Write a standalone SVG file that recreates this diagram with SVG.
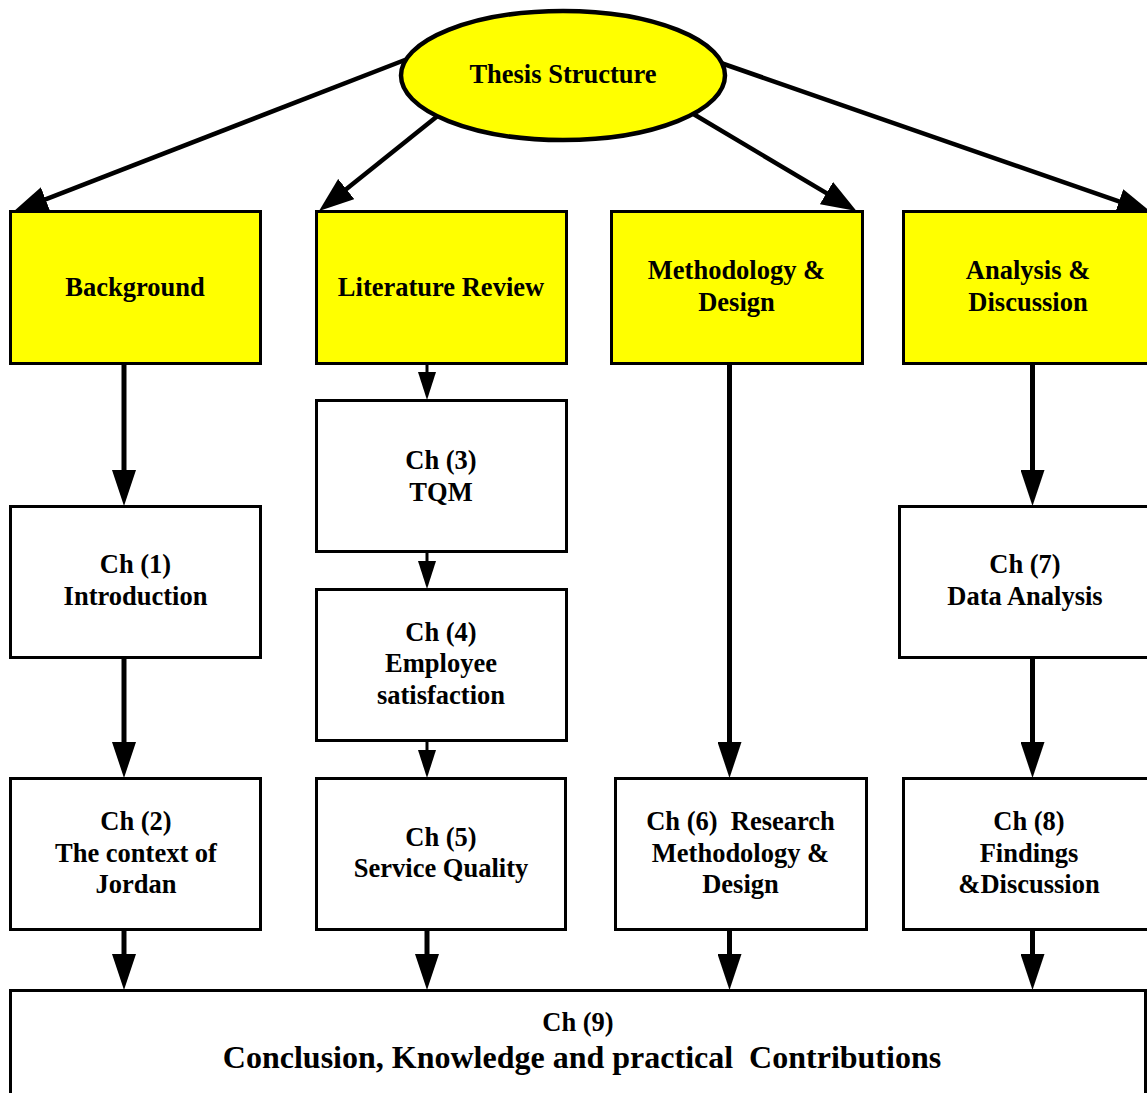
<svg xmlns="http://www.w3.org/2000/svg" width="1147" height="1093" viewBox="0 0 1147 1093">
  <style>
    .bg { fill: #ffffff; }
    .head { fill: #ffff00; stroke: #000; stroke-width: 3; }
    .box { fill: #ffffff; stroke: #000; stroke-width: 3; }
    .oval { fill: #ffff00; stroke: #000; stroke-width: 4.5; }
    text { font-family: "Liberation Serif", "Times New Roman", serif; font-weight: bold; font-size: 26.5px; text-anchor: middle; fill: #000; }
    .big { font-size: 32px; }
    .thick { stroke: #000; stroke-width: 5; fill: none; }
    .thin { stroke: #000; stroke-width: 3; fill: none; }
    .diag { stroke: #000; stroke-width: 4.5; fill: none; }
  </style>
  <defs>
    <marker id="arrowThick" markerUnits="userSpaceOnUse" markerWidth="36" markerHeight="24" refX="26" refY="12" orient="auto">
      <path d="M0,0 L36,12 L0,24 z" fill="#000"/>
    </marker>
    <marker id="arrowThin" markerUnits="userSpaceOnUse" markerWidth="28" markerHeight="18" refX="20" refY="9" orient="auto">
      <path d="M0,0 L28,9 L0,18 z" fill="#000"/>
    </marker>
    <marker id="arrowDiag" markerUnits="userSpaceOnUse" markerWidth="35" markerHeight="26" refX="25" refY="13" orient="auto">
      <path d="M0,0 L35,13 L0,26 z" fill="#000"/>
    </marker>
  </defs>

  <rect class="bg" x="0" y="0" width="1147" height="1093"/>

  <!-- connectors -->
  <g id="connectors">
    <!-- from the root ellipse to the four sections -->
    <line class="diag" x1="410" y1="58" x2="22.3" y2="208.4" marker-end="url(#arrowDiag)"/>
    <line class="diag" x1="440" y1="114" x2="326.8" y2="204.7" marker-end="url(#arrowDiag)"/>
    <line class="diag" x1="690" y1="112" x2="847.9" y2="205.9" marker-end="url(#arrowDiag)"/>
    <line class="diag" x1="718" y1="62" x2="1142.6" y2="209.7" marker-end="url(#arrowDiag)"/>

    <!-- Background column -->
    <line class="thick" x1="124" y1="363" x2="124" y2="496" marker-end="url(#arrowThick)"/>
    <line class="thick" x1="124" y1="657" x2="124" y2="768" marker-end="url(#arrowThick)"/>
    <line class="thick" x1="124" y1="929" x2="124" y2="980" marker-end="url(#arrowThick)"/>

    <!-- Literature Review column -->
    <line class="thin" x1="427" y1="363" x2="427" y2="392" marker-end="url(#arrowThin)"/>
    <line class="thin" x1="427" y1="552" x2="427" y2="581" marker-end="url(#arrowThin)"/>
    <line class="thin" x1="427" y1="740" x2="427" y2="770" marker-end="url(#arrowThin)"/>
    <line class="thick" x1="427" y1="929" x2="427" y2="980" marker-end="url(#arrowThick)"/>

    <!-- Methodology column -->
    <line class="thick" x1="729.5" y1="363" x2="729.5" y2="768" marker-end="url(#arrowThick)"/>
    <line class="thick" x1="729.5" y1="929" x2="729.5" y2="980" marker-end="url(#arrowThick)"/>

    <!-- Analysis column -->
    <line class="thick" x1="1032.5" y1="363" x2="1032.5" y2="496" marker-end="url(#arrowThick)"/>
    <line class="thick" x1="1032.5" y1="657" x2="1032.5" y2="768" marker-end="url(#arrowThick)"/>
    <line class="thick" x1="1032.5" y1="929" x2="1032.5" y2="980" marker-end="url(#arrowThick)"/>
  </g>

  <!-- root -->
  <g id="thesis-structure">
    <ellipse class="oval" cx="563" cy="75.5" rx="162" ry="64.5"/>
    <text x="563" y="83">Thesis Structure</text>
  </g>

  <!-- section headers -->
  <g id="background">
    <rect class="head" x="10.5" y="211.5" width="250" height="152"/>
    <text x="135" y="295.5">Background</text>
  </g>
  <g id="literature-review">
    <rect class="head" x="316.5" y="211.5" width="250" height="152"/>
    <text x="441" y="295.5">Literature Review</text>
  </g>
  <g id="methodology-design">
    <rect class="head" x="611.5" y="211.5" width="251" height="152"/>
    <text x="736.5" y="279">Methodology &amp;</text>
    <text x="736.5" y="311">Design</text>
  </g>
  <g id="analysis-discussion">
    <rect class="head" x="903.5" y="211.5" width="251" height="152"/>
    <text x="1028" y="279">Analysis &amp;</text>
    <text x="1028" y="311">Discussion</text>
  </g>

  <!-- chapters -->
  <g id="ch1">
    <rect class="box" x="10.5" y="506.5" width="250" height="151"/>
    <text x="135.5" y="573">Ch (1)</text>
    <text x="135.5" y="605">Introduction</text>
  </g>
  <g id="ch2">
    <rect class="box" x="10.5" y="778.5" width="250" height="151"/>
    <text x="136" y="830">Ch (2)</text>
    <text x="136" y="862">The context of</text>
    <text x="136" y="893">Jordan</text>
  </g>
  <g id="ch3">
    <rect class="box" x="316.5" y="400.5" width="250" height="151"/>
    <text x="441" y="469">Ch (3)</text>
    <text x="441" y="501">TQM</text>
  </g>
  <g id="ch4">
    <rect class="box" x="316.5" y="589.5" width="250" height="151"/>
    <text x="441" y="641">Ch (4)</text>
    <text x="441" y="672">Employee</text>
    <text x="441" y="704">satisfaction</text>
  </g>
  <g id="ch5">
    <rect class="box" x="316.5" y="778.5" width="249" height="151"/>
    <text x="441" y="846">Ch (5)</text>
    <text x="441" y="877">Service Quality</text>
  </g>
  <g id="ch6">
    <rect class="box" x="615.5" y="778.5" width="251" height="151"/>
    <text x="740.5" y="830">Ch (6)&#160; Research</text>
    <text x="740.5" y="862">Methodology &amp;</text>
    <text x="740.5" y="893">Design</text>
  </g>
  <g id="ch7">
    <rect class="box" x="899.5" y="506.5" width="251" height="151"/>
    <text x="1025" y="573">Ch (7)</text>
    <text x="1025" y="605">Data Analysis</text>
  </g>
  <g id="ch8">
    <rect class="box" x="903.5" y="778.5" width="251" height="151"/>
    <text x="1029" y="830">Ch (8)</text>
    <text x="1029" y="862">Findings</text>
    <text x="1029" y="893">&amp;Discussion</text>
  </g>
  <g id="ch9">
    <rect class="box" x="10.5" y="990.5" width="1135" height="130"/>
    <text x="578" y="1031">Ch (9)</text>
    <text class="big" x="582" y="1068">Conclusion, Knowledge and practical&#160; Contributions</text>
  </g>
</svg>
